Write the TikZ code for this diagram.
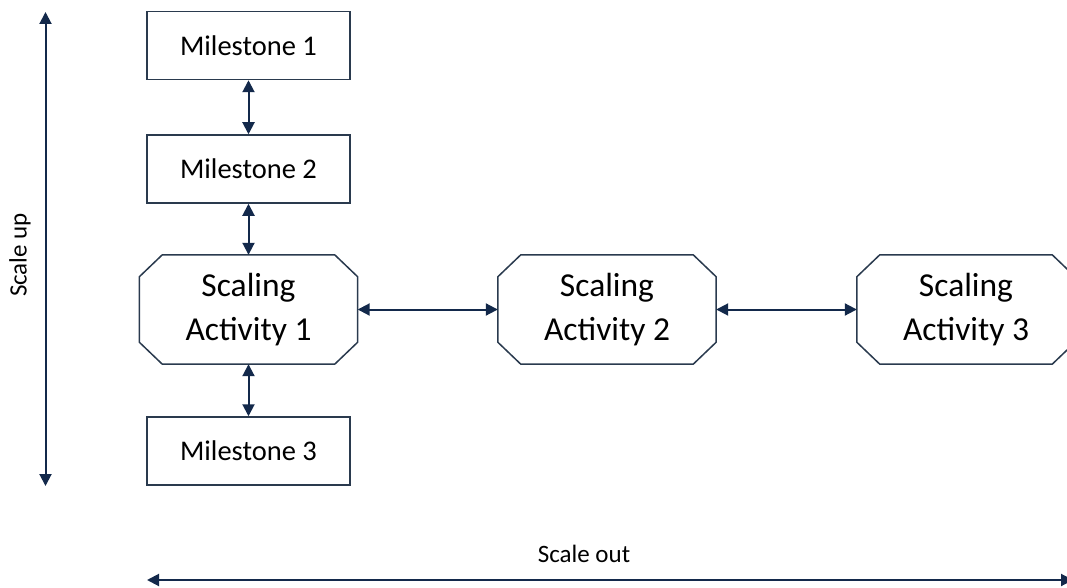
\documentclass[tikz,border=0pt]{standalone}
\usepackage{fontspec}
\setmainfont{Carlito}
\usetikzlibrary{arrows.meta}
\definecolor{navy}{HTML}{13294B}
\definecolor{boxline}{HTML}{2A3A4E}
\tikzset{
  milestone/.style={draw=boxline, line width=1.5pt, rectangle, minimum width=203pt, minimum height=68pt, inner sep=0pt, font=\fontsize{28.5pt}{32pt}\selectfont},
  activity/.style={rectangle, minimum width=218pt, minimum height=109pt, inner sep=0pt, align=center, font=\fontsize{33.5pt}{44pt}\selectfont},
  octa/.style={draw=boxline, line width=1.5pt, line join=miter},
  link/.style={draw=navy, line width=2pt, {Triangle[length=12pt,width=12pt]}-{Triangle[length=12pt,width=12pt]}},
  lbl/.style={font=\fontsize{25pt}{28pt}\selectfont, inner sep=0pt}
}
\begin{document}
\begin{tikzpicture}[x=1pt,y=-1pt]
\clip (0,0) rectangle (1067,588);
\node[milestone] (m1) at (248.5,45.5) {Milestone 1};
\node[milestone] (m2) at (248.5,169) {Milestone 2};
\node[activity] (a1) at (248.5,309.5) {Scaling\\Activity 1};
\node[activity] (a2) at (607,309.5) {Scaling\\Activity 2};
\node[activity] (a3) at (966,309.5) {Scaling\\Activity 3};
\foreach \n in {a1,a2,a3}
  \draw[octa] ([xshift=23pt]\n.north west) -- ([xshift=-23pt]\n.north east)
    -- ([yshift=-22pt]\n.north east) -- ([yshift=22pt]\n.south east)
    -- ([xshift=-23pt]\n.south east) -- ([xshift=23pt]\n.south west)
    -- ([yshift=22pt]\n.south west) -- ([yshift=-22pt]\n.north west) -- cycle;
\node[milestone] (m3) at (248.5,451) {Milestone 3};
\draw[link] (m1.south) -- (m2.north);
\draw[link] (m2.south) -- (a1.north);
\draw[link] (a1.south) -- (m3.north);
\draw[link] (a1.east) -- (a2.west);
\draw[link] (a2.east) -- (a3.west);
\coordinate (upT) at (45.5,12);
\coordinate (upB) at (45.5,486);
\draw[link] (upT) -- (upB);
\node[lbl, rotate=90] (su) at (20,255) {Scale up};
\coordinate (outL) at (147,580);
\coordinate (outR) at (1073,580);
\draw[link] (outL) -- (outR);
\node[lbl] (so) at (584,554) {Scale out};
\end{tikzpicture}
\end{document}
